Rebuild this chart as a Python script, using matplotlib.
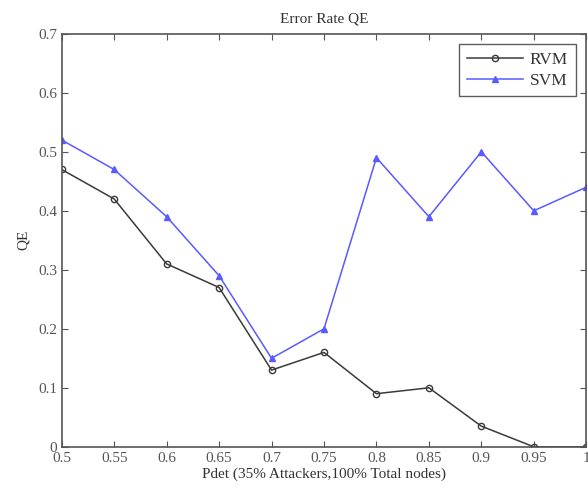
import matplotlib
matplotlib.use('Agg')
import matplotlib.pyplot as plt

pdet = [0.5, 0.55, 0.6, 0.65, 0.7, 0.75, 0.8, 0.85, 0.9, 0.95, 1.0]
rvm = [0.47, 0.42, 0.31, 0.27, 0.13, 0.16, 0.09, 0.10, 0.035, 0.0, 0.0]
svm = [0.52, 0.47, 0.39, 0.29, 0.15, 0.20, 0.49, 0.39, 0.50, 0.40, 0.44]
xticks = [0.5, 0.55, 0.6, 0.65, 0.7, 0.75, 0.8, 0.85, 0.9, 0.95, 1.0]
xlabels = ['0.5', '0.55', '0.6', '0.65', '0.7', '0.75', '0.8', '0.85', '0.9', '0.95', '1']
yticks = [0, 0.1, 0.2, 0.3, 0.4, 0.5, 0.6, 0.7]
ylabels = ['0', '0.1', '0.2', '0.3', '0.4', '0.5', '0.6', '0.7']

plt.rcParams['font.family'] = ['Liberation Serif', 'DejaVu Serif']

fig = plt.figure(figsize=(5.88, 4.97), dpi=100)
ax = fig.add_axes([0.105, 0.101, 0.892, 0.831])

ax.plot(pdet, rvm, color='#3a3a3a', marker='o', markersize=4.5,
        markerfacecolor='none', linewidth=1.1, label='RVM')
ax.plot(pdet, svm, color='#5a5aff', marker='^', markersize=4.5,
        linewidth=1.1, label='SVM')

ax.set_xlim(0.5, 1.0)
ax.set_ylim(0, 0.7)
ax.set_xticks(xticks)
ax.set_xticklabels(xlabels)
ax.set_yticks(yticks)
ax.set_yticklabels(ylabels)
ax.tick_params(direction='in', top=True, right=True, length=4,
               labelsize=11, labelcolor='#555555', color='#555555')
for s in ax.spines.values():
    s.set_color('#555555')
    s.set_linewidth(1.2)

ax.set_title('Error Rate QE', fontsize=11, color='#333333', pad=8)
ax.set_xlabel('Pdet (35% Attackers,100% Total nodes)', fontsize=11,
              color='#333333', labelpad=2)
ax.set_ylabel('QE', fontsize=11, color='#333333', labelpad=6)

leg = ax.legend(loc='upper right', fancybox=False, fontsize=12.5,
                edgecolor='#333333', handlelength=3.2, borderaxespad=0.6,
                labelcolor='#333333', handletextpad=0.4, borderpad=0.45,
                labelspacing=0.25)
leg.get_frame().set_linewidth(1.0)

fig.savefig('out.png', dpi=100)
